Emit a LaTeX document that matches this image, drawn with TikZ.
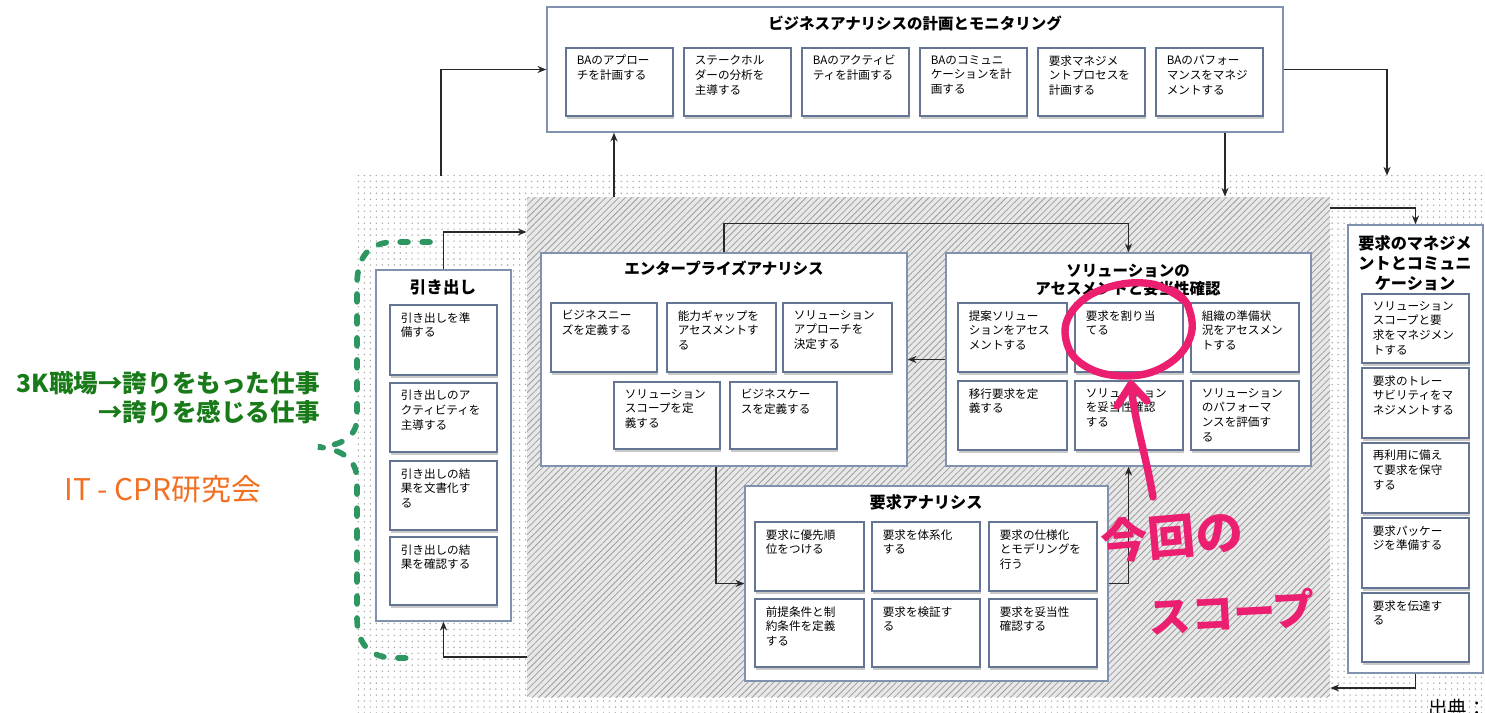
\documentclass[tikz,border=0pt]{standalone}
\usepackage{fontspec}
\setmainfont{Noto Sans CJK JP}
\usetikzlibrary{fit,shadows,patterns.meta,arrows.meta}
\definecolor{grpline}{RGB}{128,146,176}
\definecolor{subline}{RGB}{100,116,148}
\definecolor{conncol}{RGB}{40,40,40}
\definecolor{bgreen}{RGB}{46,150,96}
\definecolor{tgreen}{RGB}{24,122,24}
\definecolor{torange}{RGB}{242,112,34}
\definecolor{hpink}{RGB}{236,30,112}
\tikzset{
 grp/.style={draw=grpline, line width=0.8pt, fill=white, inner sep=0pt},
 sub/.style={draw=subline, line width=1.1pt, fill=white, inner sep=0pt,
   drop shadow={shadow xshift=0.6pt, shadow yshift=-1.6pt, fill=black!35, opacity=0.6}},
 subtxt/.style={anchor=north west, align=left, inner sep=0pt, font=\fontsize{6.6}{8.4}\selectfont},
 ttl/.style={align=center, inner sep=0pt, font=\bfseries\fontsize{8.8}{10.5}\selectfont},
 conn/.style={draw=conncol, line width=0.9pt, -{Stealth[length=5pt,width=4pt]}},
 brace/.style={draw=bgreen, line width=3.2pt, line cap=round, dash pattern=on 4.5pt off 8pt},
 hand/.style={draw=hpink, line width=4.2pt, line cap=round, line join=round},
 handtxt/.style={text=hpink, inner sep=0pt},
}
\newcommand\jbox[6]{%
  \node[sub, fit={(#2,#3) (#4,#5)}] (#1) {};
  \node[subtxt] (#1t) at ([xshift=6.5pt,yshift=-4.5pt]#1.north west) {#6};}
\begin{document}
\begin{tikzpicture}[x=0.02cm,y=-0.02cm]
\useasboundingbox (0,0) rectangle (1485,713);
\clip (0,0) rectangle (1485,713);
% backgrounds
\node[fit={(355,176) (1485,713)}, inner sep=0pt, pattern={Dots[radius=0.45pt,distance=3.4pt]}, pattern color=black!36] (outer) {};
\node[fit={(527,197) (1330,697)}, inner sep=0pt, fill=black!9,
  postaction={pattern={Lines[angle=45,distance=2.6pt,line width=0.45pt]}, pattern color=black!38}] (inner) {};

% planning box
\node[grp, fit={(547,7) (1283,132)}] (plan) {};
\node[ttl] (planT) at (915,23) {ビジネスアナリシスの計画とモニタリング};
\jbox{p1}{566}{48}{673}{116}{BAのアプロー\\チを計画する}
\jbox{p2}{684}{48}{791}{116}{ステークホル\\ダーの分析を\\主導する}
\jbox{p3}{802}{48}{909}{116}{BAのアクティビ\\ティを計画する}
\jbox{p4}{920}{48}{1027}{116}{BAのコミュニ\\ケーションを計\\画する}
\jbox{p5}{1038}{48}{1145}{116}{要求マネジメ\\ントプロセスを\\計画する}
\jbox{p6}{1156}{48}{1263}{116}{BAのパフォー\\マンスをマネジ\\メントする}

% elicitation
\node[grp, fit={(376,270) (511,621)}] (elic) {};
\node[ttl, font=\bfseries\fontsize{9.4}{11}\selectfont] (elicT) at (443,287) {引き出し};
\jbox{e1}{390}{305}{497}{375}{引き出しを準\\備する}
\jbox{e2}{390}{383}{497}{452}{引き出しのア\\クティビティを\\主導する}
\jbox{e3}{390}{461}{497}{530}{引き出しの結\\果を文書化す\\る}
\jbox{e4}{390}{537}{497}{605}{引き出しの結\\果を確認する}

% enterprise analysis
\node[grp, fit={(541,253) (907,466)}] (ent) {};
\node[ttl] (entT) at (724,268) {エンタープライズアナリシス};
\jbox{n1}{551}{303}{657}{372}{ビジネスニー\\ズを定義する}
\jbox{n2}{667}{303}{776}{372}{能力ギャップを\\アセスメントす\\る}
\jbox{n3}{783}{303}{892}{372}{ソリューション\\アプローチを\\決定する}
\jbox{n4}{614}{382}{720}{449}{ソリューション\\スコープを定\\義する}
\jbox{n5}{730}{382}{837}{449}{ビジネスケー\\スを定義する}

% solution assessment
\node[grp, fit={(946,253) (1311,466)}] (sol) {};
\node[ttl, font=\bfseries\fontsize{8.8}{9.8}\selectfont] (solT) at (1128,280) {ソリューションの\\アセスメントと妥当性確認};
\jbox{s1}{958}{303}{1067}{372}{提案ソリュー\\ションをアセス\\メントする}
\jbox{s2}{1075}{303}{1183}{372}{要求を割り当\\てる}
\jbox{s3}{1191}{303}{1299}{372}{組織の準備状\\況をアセスメン\\トする}
\jbox{s4}{958}{381}{1067}{450}{移行要求を定\\義する}
\jbox{s5}{1075}{381}{1183}{450}{ソリューション\\を妥当性確認\\する}
\jbox{s6}{1191}{381}{1299}{450}{ソリューション\\のパフォーマ\\ンスを評価す\\る}

% requirements analysis
\node[grp, fit={(745,486) (1108,681)}] (ra) {};
\node[ttl, font=\bfseries\fontsize{9.2}{11}\selectfont] (raT) at (926,502) {要求アナリシス};
\jbox{a1}{755}{522}{864}{591}{要求に優先順\\位をつける}
\jbox{a2}{872}{522}{980}{591}{要求を体系化\\する}
\jbox{a3}{989}{522}{1097}{591}{要求の仕様化\\とモデリングを\\行う}
\jbox{a4}{755}{599}{864}{667}{前提条件と制\\約条件を定義\\する}
\jbox{a5}{872}{599}{980}{667}{要求を検証す\\る}
\jbox{a6}{989}{599}{1097}{667}{要求を妥当性\\確認する}

% requirements management and communication
\node[grp, fit={(1348,225) (1483,673)}] (rm) {};
\node[ttl, font=\bfseries\fontsize{9.2}{11.4}\selectfont] (rmT) at (1415,263) {要求のマネジメ\\ントとコミュニ\\ケーション};
\jbox{m1}{1362}{294}{1469}{363}{ソリューション\\スコープと要\\求をマネジメン\\トする}
\jbox{m2}{1362}{368}{1469}{438}{要求のトレー\\サビリティをマ\\ネジメントする}
\jbox{m3}{1362}{443}{1469}{513}{再利用に備え\\て要求を保守\\する}
\jbox{m4}{1362}{518}{1469}{588}{要求パッケー\\ジを準備する}
\jbox{m5}{1362}{593}{1469}{662}{要求を伝達す\\る}

% connectors
\coordinate (cL) at (441,176);
\draw[conn] (cL) |- (plan.west);
\coordinate (cU) at (614,0);
\draw[conn] (inner.north -| cU) -- (plan.south -| cU);
\coordinate (cD) at (1225,0);
\draw[conn] (plan.south -| cD) -- (inner.north -| cD);
\coordinate (cR) at (1387,0);
\draw[conn] (plan.east) -| (outer.north -| cR);
\coordinate (cM) at (0,208);
\draw[conn] (inner.east |- cM) -| (rm.north);
\coordinate (cB) at (0,688);
\draw[conn] (rm.south) |- (inner.east |- cB);
\coordinate (cE1) at (0,657);
\draw[conn] (inner.west |- cE1) -| (elic.south);
\coordinate (cE2) at (0,232);
\draw[conn] (elic.north) |- (inner.west |- cE2);
\draw[conn] (ent.north) -- ++(0,-29) -| (sol.north);
\draw[conn] (sol.west) -- (ent.east);
\coordinate (cA) at (716,0);
\draw[conn] (ent.south -| cA) |- (ra.west);
\draw[conn] (ra.east) -| (sol.south);

% green brace and side texts
\draw[brace] (430,242) -- (395,242) .. controls (368,242) and (357,258) .. (357,285) -- (357,418)
  .. controls (357,436) and (342,446) .. (318,447) .. controls (342,449) and (357,460) .. (357,480)
  -- (357,618) .. controls (357,645) and (371,658) .. (395,658) -- (417,658);
\node[anchor=east, align=right, inner sep=0pt, text=tgreen, font=\bfseries\fontsize{14}{16.5}\selectfont] (gtxt) at (320,398) {3K職場→誇りをもった仕事\\→誇りを感じる仕事};
\node[inner sep=0pt, text=torange, font=\fontsize{17}{19}\selectfont] (otxt) at (163,489) {IT - CPR研究会};
\node[anchor=north west, inner sep=0pt, font=\fontsize{11}{12}\selectfont] (src) at (1428,699) {出典：I};

% pink handwriting
\draw[hand] plot[smooth, tension=0.7] coordinates {(1186,302) (1152,284) (1106,288) (1073,310) (1066,340) (1085,366) (1125,376) (1165,366) (1190,338) (1188,306) (1172,290)};
\draw[hand] (1153,497) .. controls (1146,455) and (1134,420) .. (1131,384);
\draw[hand] (1117,406) -- (1131,384) -- (1147,401);
\node[handtxt, rotate=5, font=\bfseries\fontsize{27}{27}\selectfont] (h1) at (1172,536) {今回の};
\node[handtxt, rotate=3, font=\bfseries\fontsize{24}{24}\selectfont] (h2) at (1232,612) {スコープ};
\end{tikzpicture}
\end{document}
